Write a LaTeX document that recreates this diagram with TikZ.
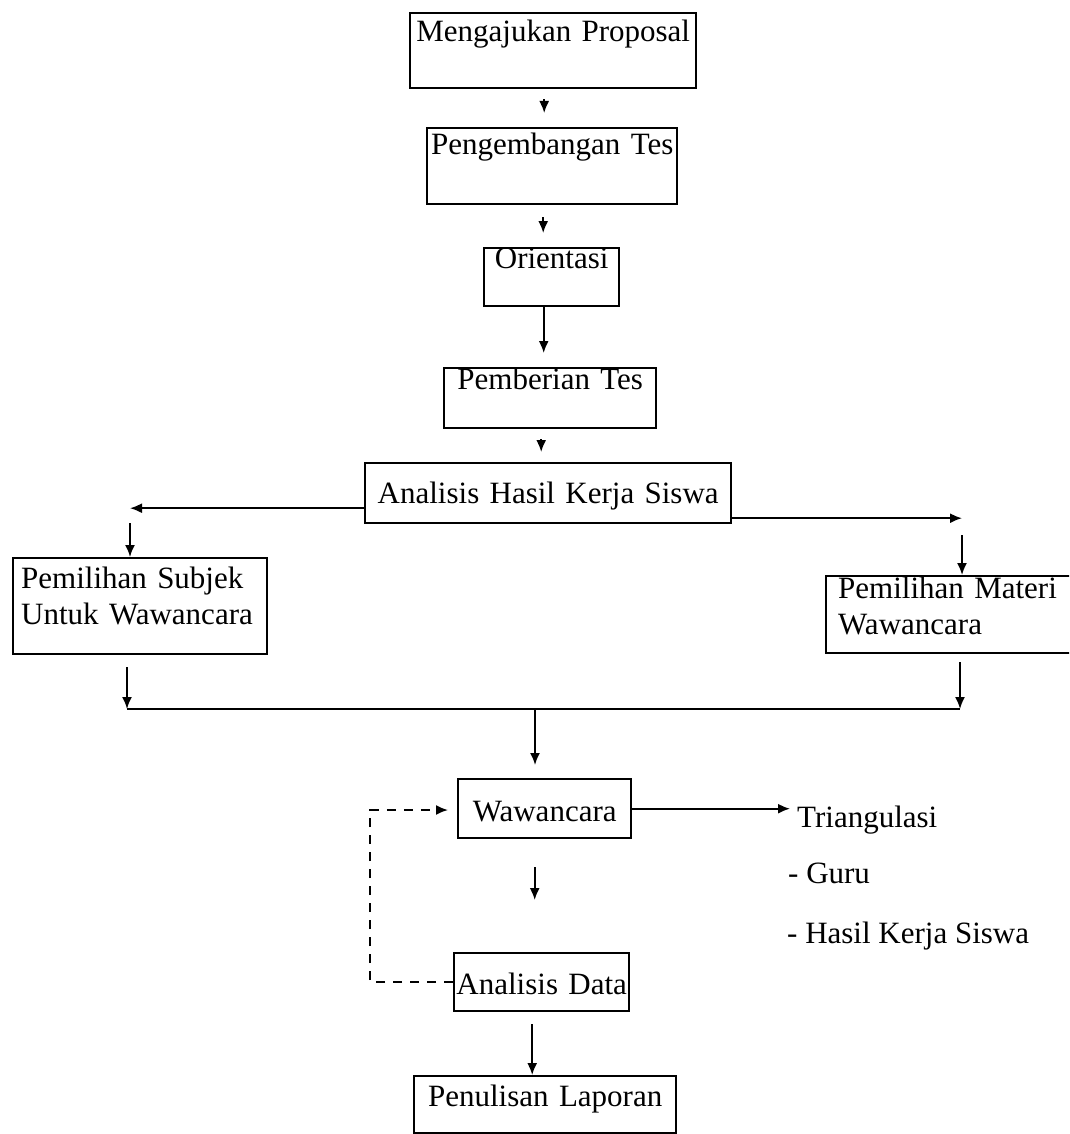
\documentclass[tikz,border=0pt]{standalone}
\usepackage{fontspec}
\setmainfont{Liberation Serif}
\usetikzlibrary{arrows.meta}
\tikzset{
	box/.style={draw, line width=2.4pt, inner xsep=2pt, inner ysep=0pt, align=center, anchor=north west},
	flow/.style={-{Latex[length=12pt,width=10pt]}, line width=1.8pt},
	feedback/.style={flow, dash pattern=on 9pt off 8pt},
	lbl/.style={inner sep=0pt, anchor=base west},
}

\begin{document}
\begin{tikzpicture}[x=1pt, y=-1pt, font=\fontsize{31}{36}\selectfont]
	\clip (0,0) rectangle (1069,1134);
	\node[box, text width=282pt, text height=28pt, text depth=47pt] (prop) at (409,12) {Mengajukan Proposal};
	\node[box, text width=246pt, text height=26pt, text depth=50pt] (dev) at (426,127) {Pengembangan Tes};
	\node[box, text width=131pt, text height=20pt, text depth=38pt] (ori) at (483,247) {Orientasi};
	\node[box, text width=208pt, text height=21pt, text depth=39pt] (give) at (443,367) {Pemberian Tes};
	\node[box, text width=362pt, text height=40pt, text depth=20pt] (ana) at (364,462) {Analisis Hasil Kerja Siswa};
	
	\node[box, align=left, inner xsep=8pt, text width=238pt, text height=30pt, text depth=66pt] (subj) at (12,557) {Pemilihan Subjek\\Untuk Wawancara};
	\node[box, align=left, inner xsep=12pt, text width=226pt, text height=22pt, text depth=55pt] (mat) at (825,575) {Pemilihan Materi\\Wawancara};
	
	\node[box, text width=169pt, text height=42pt, text depth=17pt] (wwc) at (457,778) {Wawancara};
	\node[box, text width=171pt, text height=41pt, text depth=17pt] (data) at (453,952) {Analisis Data};
	\node[box, text width=258pt, text height=30pt, text depth=27pt] (lap) at (413,1075) {Penulisan Laporan};
	
	\node[lbl] (tri) at (797,827) {Triangulasi};
	\node[lbl] (guru) at (788,883) {- Guru};
	\node[lbl] (hks) at (787,943) {- Hasil Kerja Siswa};
	
	\coordinate (ls) at (130,507);
	\coordinate (rs) at (962,517);
	\coordinate (lm) at (127,709);
	\coordinate (rm) at (960,709);
	\coordinate (cm) at (535,709);
	\coordinate (fb) at (370,810);
	
	\draw[flow, shorten <=10pt, shorten >=14pt] ([xshift=-9pt]prop.south) -- ([xshift=-9pt]prop.south |- dev.north);
	\draw[flow, shorten <=12pt, shorten >=14pt] ([xshift=-9pt]dev.south) -- ([xshift=-9pt]dev.south |- ori.north);
	\draw[flow, shorten >=14pt] ([xshift=-8pt]ori.south) -- ([xshift=-8pt]ori.south |- give.north);
	\draw[flow, shorten <=10pt, shorten >=10pt] ([xshift=-9pt]give.south) -- ([xshift=-9pt]give.south |- ana.north);
	
	\draw[flow] ([yshift=-15pt]ana.west) -- ([yshift=-15pt]ana.west -| ls);
	\draw[flow, shorten <=16pt] (ls) -- (ls |- subj.north);
	\draw[flow] ([yshift=-25pt]ana.east) -- ([yshift=-25pt]ana.east -| rs);
	\draw[flow, shorten <=18pt] (rs) -- (rs |- mat.north);
	
	\draw[flow, shorten <=12pt] (subj.south -| lm) -- (lm);
	\draw[line width=1.8pt] (lm) -- (rm);
	\draw[flow, shorten <=8pt] (mat.south -| rm) -- (rm);
	\draw[flow, shorten >=13pt] (cm) -- (cm |- wwc.north);
	
	\draw[flow, shorten >=7pt] (wwc.east) -- (wwc.east -| tri.west);
	\draw[flow, shorten <=28pt, shorten >=52pt] ([xshift=-10pt]wwc.south) -- ([xshift=-10pt]wwc.south |- data.north);
	\draw[flow, shorten <=12pt] ([xshift=-13pt]lap.north |- data.south) -- ([xshift=-13pt]lap.north);
	\draw[feedback, shorten >=9pt] (data.west) -| (fb) -- (fb -| wwc.west);
\end{tikzpicture}
\end{document}
